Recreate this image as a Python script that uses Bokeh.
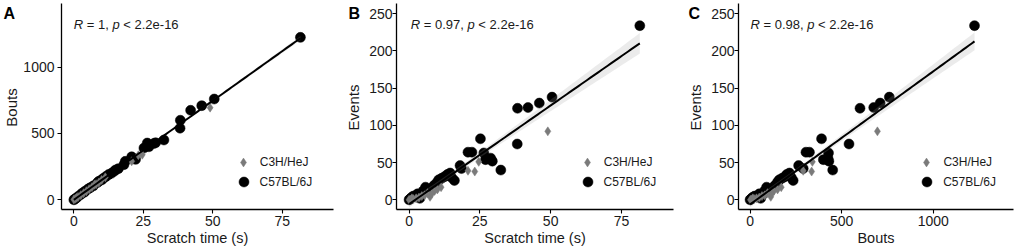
import numpy as np
from bokeh.plotting import figure
from bokeh.layouts import row
from bokeh.models import Label, Legend, LegendItem, Range1d, FixedTicker
from bokeh.embed import file_html
from bokeh.resources import INLINE

# ---------------- data ----------------
strains = ["C3H/HeJ", "C57BL/6J"]

b6_time = [81.5, 50.5, 46.0, 42.0, 38.3, 38.2, 32.4, 29.4, 28.8, 27.0, 26.4, 25.2,
           22.2, 20.8, 18.5, 18.0, 16.0, 15.0, 14.5, 13.5, 12.5, 11.5, 10.5, 10.0,
           9.0, 8.5, 7.0, 5.8, 5.0, 4.0, 3.8, 3.0, 2.5, 1.5, 0.8, 0.3, 0.0]
b6_bouts = [1225, 760, 710, 675, 600, 540, 451, 430, 425, 400, 428, 390,
            305, 324, 290, 265, 235, 225, 215, 200, 190, 175, 160, 150,
            140, 130, 105, 90, 80, 65, 58, 50, 40, 25, 12, 5, 0]
b6_events = [234, 138, 130, 124, 123, 75, 40, 52, 56, 54, 63, 82,
             64, 64, 42, 46, 26, 30, 36, 34, 31, 29, 27, 24,
             20, 18, 14, 17, 12, 6, 2, 8, 4, 5, 3, 1, 0]

c3h_time = [49.0, 24.6, 23.2, 20.8, 11.3, 10.0, 9.0, 8.0, 7.4, 6.5, 5.5, 4.5,
            3.5, 2.5, 1.5, 1.0, 0.5, 0.0]
c3h_bouts = [695, 340, 336, 290, 170, 150, 130, 118, 113, 95, 80, 65,
             50, 35, 22, 15, 8, 2]
c3h_events = [92, 51, 38, 39, 17, 14, 12, 8, 4, 9, 6, 5,
              3, 2, 1, 2, 0, 0]

r_values = ["1", "0.97", "0.98"]
p_value = "2.2e-16"
panel_letters = ["A", "B", "C"]
x_titles = ["Scratch time (s)", "Scratch time (s)", "Bouts"]
y_titles = ["Bouts", "Events", "Events"]
time_ticks = [0, 25, 50, 75]
bouts_ticks = [0, 500, 1000]
events_ticks = [0, 50, 100, 150, 200, 250]

# ---------------- style ----------------
FONT = "Liberation Sans"
TXT = "#1a1a1a"
GREY = "#7a7a7a"
H = 249
BORDER_T = 3
BORDER_B = 40
FRAME_H = H - BORDER_T - BORDER_B
FRAME_BOTTOM = H - BORDER_B  # page y of the frame bottom

W = {' ': 0.278, '=': 0.584, ',': 0.278, '.': 0.278, '<': 0.584, '-': 0.333,
     'R': 0.722, 'p': 0.556, 'e': 0.556}


def tw(s, size):
    return sum(W.get(c, 0.556) for c in s) * size


def spacer(width, idx, letter_x, title_cx):
    s = figure(width=width, height=H, output_backend="svg", toolbar_location=None,
               x_range=Range1d(0, 1), y_range=Range1d(0, 1),
               x_axis_location=None, y_axis_location=None,
               min_border_left=0, min_border_right=0,
               min_border_top=BORDER_T, min_border_bottom=BORDER_B)
    s.outline_line_color = None
    s.grid.visible = False
    s.add_layout(Label(x=letter_x, y=FRAME_BOTTOM - 4, x_units="screen",
                       y_units="screen", text=panel_letters[idx], text_font=FONT,
                       text_font_size="16px", text_font_style="bold",
                       text_color="black", text_align="left", text_baseline="top"))
    s.add_layout(Label(x=title_cx, y=FRAME_BOTTOM - 107, x_units="screen",
                       y_units="screen", text=y_titles[idx], text_font=FONT,
                       text_font_size="15px", text_color=TXT, angle=np.pi / 2,
                       text_align="center", text_baseline="middle"))
    return s


def panel(xb, yb, xc, yc, xrange_, yrange_, xticks, yticks, width, bl, br,
          idx, legend_cx, ystandoff, ann_x):
    p = figure(width=width, height=H, output_backend="svg", toolbar_location=None,
               x_range=Range1d(*xrange_), y_range=Range1d(*yrange_),
               min_border_left=bl, min_border_right=br, min_border_top=BORDER_T,
               min_border_bottom=BORDER_B)
    p.outline_line_color = None
    p.grid.visible = False
    p.background_fill_color = "white"
    p.border_fill_color = "white"
    for ax in (p.xaxis[0], p.yaxis[0]):
        ax.axis_line_color = "black"
        ax.axis_line_width = 1.3
        ax.major_tick_line_color = "black"
        ax.major_tick_line_width = 1.1
        ax.major_tick_in = 0
        ax.major_tick_out = 4
        ax.minor_tick_line_color = None
        ax.major_label_text_font = FONT
        ax.major_label_text_font_size = "14px"
        ax.major_label_text_color = TXT
    p.xaxis[0].ticker = FixedTicker(ticks=xticks)
    p.yaxis[0].ticker = FixedTicker(ticks=yticks)
    p.xaxis[0].major_label_standoff = 2
    p.yaxis[0].major_label_standoff = ystandoff
    p.xaxis[0].axis_label = x_titles[idx]
    p.xaxis[0].axis_label_standoff = 1
    p.xaxis[0].axis_label_text_font = FONT
    p.xaxis[0].axis_label_text_font_size = "14.5px"
    p.xaxis[0].axis_label_text_font_style = "normal"
    p.xaxis[0].axis_label_text_color = TXT

    # points
    r_b6 = p.scatter(xb, yb, marker="circle", size=10, fill_color="black",
                     line_color="black", line_width=0.5)
    r_c3 = p.scatter(xc, yc, marker="diamond", size=9, fill_color=GREY,
                     line_color=GREY, line_width=0.5)

    # linear fit with 95% band on all data
    x = np.array(list(xb) + list(xc), dtype=float)
    y = np.array(list(yb) + list(yc), dtype=float)
    n = len(x)
    slope, icpt = np.polyfit(x, y, 1)
    resid = y - (slope * x + icpt)
    s = np.sqrt(np.sum(resid ** 2) / (n - 2))
    sxx = np.sum((x - x.mean()) ** 2)
    xs = np.linspace(x.min(), x.max(), 80)
    yh = slope * xs + icpt
    se = s * np.sqrt(1.0 / n + (xs - x.mean()) ** 2 / sxx)
    p.varea(x=xs, y1=yh - 1.995 * se, y2=yh + 1.995 * se,
            fill_color="#9a9a9a", fill_alpha=0.2)
    p.line(xs, yh, line_color="black", line_width=2)

    # legends (one per key so that key sizes match the points)
    cy_d, cy_c = 47, 27.3
    g_d, g_c = 22.5, 25
    leg_d = Legend(items=[LegendItem(label=strains[0], renderers=[r_c3])],
                   location=(legend_cx - g_d / 2, cy_d - g_d / 2),
                   glyph_width=int(g_d), glyph_height=int(g_d), label_height=int(g_d),
                   label_standoff=int(round(17 - g_d / 2)), padding=0, margin=0, spacing=0,
                   border_line_color=None, background_fill_alpha=0,
                   label_text_font=FONT, label_text_font_size="12px",
                   label_text_color=TXT)
    leg_c = Legend(items=[LegendItem(label=strains[1], renderers=[r_b6])],
                   location=(legend_cx - g_c / 2, cy_c - g_c / 2),
                   glyph_width=g_c, glyph_height=g_c, label_height=g_c,
                   label_standoff=int(round(17 - g_c / 2)), padding=0, margin=0, spacing=0,
                   border_line_color=None, background_fill_alpha=0,
                   label_text_font=FONT, label_text_font_size="12px",
                   label_text_color=TXT)
    p.add_layout(leg_d)
    p.add_layout(leg_c)

    # correlation annotation: "R = .., p < .."
    fs = 13
    full = ["R", " = ", r_values[idx] + ",", " ", "p", " ", "< " + p_value]
    styles = ["italic", None, "normal", None, "italic", None, "normal"]
    xpos = ann_x
    for txt, style in zip(full, styles):
        if style is not None:
            p.add_layout(Label(x=xpos, y=FRAME_H - 21, x_units="screen",
                               y_units="screen", text=txt.strip(), text_font=FONT,
                               text_font_size=f"{fs}px", text_font_style=style,
                               text_color=TXT, text_baseline="middle",
                               text_align="left"))
        xpos += tw(txt, fs)
    p.add_layout(Label(x=ann_x + tw("R ", fs), y=FRAME_H - 21, x_units="screen",
                       y_units="screen", text="=", text_font=FONT,
                       text_font_size=f"{fs}px", text_color=TXT,
                       text_baseline="middle", text_align="left"))
    return p


time_range = (-4.45, 93.4)
ya = (-73.2, 1480.4)
ye = (-13.0, 263.8)
sa = spacer(20, 0, 3, 11)
pa = panel(b6_time, b6_bouts, c3h_time, c3h_bouts, time_range, ya,
           time_ticks, bouts_ticks, 320, 41, 7, 0, 182, 3, 12.3)
sb = spacer(26, 1, 8, 13.3)
pb = panel(b6_time, b6_events, c3h_time, c3h_events, time_range, ye,
           time_ticks, events_ticks, 314, 28, 7, 1, 191, 0, 14.3)
sc = spacer(26, 2, 8, 15)
pc = panel(b6_bouts, b6_events, c3h_bouts, c3h_events, (-63.2, 1437.8), ye,
           bouts_ticks, events_ticks, 312, 32, 5, 2, 188.7, 0, 12)

layout = row(sa, pa, sb, pb, sc, pc)
open("out.html", "w").write(file_html(layout, INLINE))
